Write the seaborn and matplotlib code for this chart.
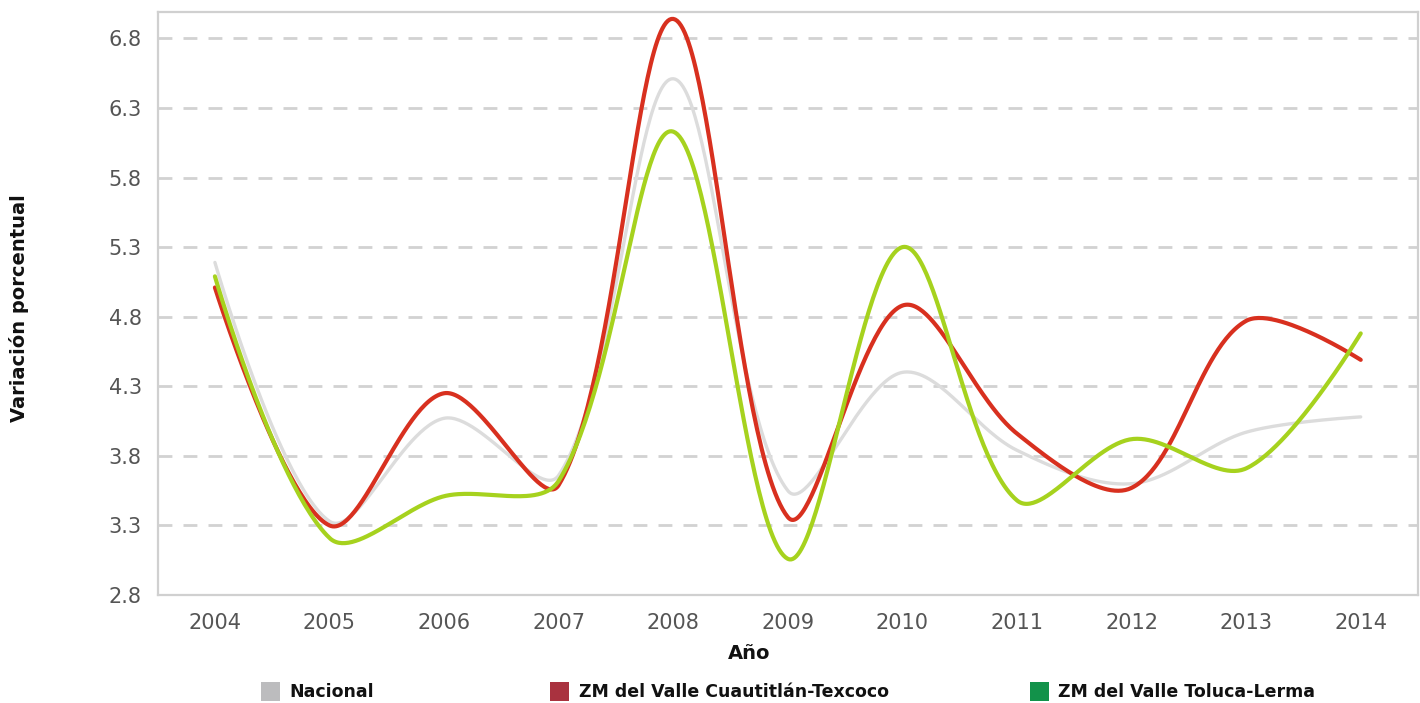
import numpy as np
import pandas as pd
import matplotlib
matplotlib.use("Agg")
import matplotlib.pyplot as plt
from matplotlib.patches import Patch
import seaborn as sns

years = [2004, 2005, 2006, 2007, 2008, 2009, 2010, 2011, 2012, 2013, 2014]
nacional = [5.19, 3.33, 4.07, 3.66, 6.51, 3.55, 4.40, 3.84, 3.60, 3.97, 4.08]
cuautitlan = [5.01, 3.30, 4.25, 3.59, 6.94, 3.36, 4.88, 3.96, 3.57, 4.77, 4.49]
toluca = [5.09, 3.21, 3.51, 3.62, 6.13, 3.06, 5.30, 3.48, 3.92, 3.71, 4.68]

series_names = ["Nacional", "ZM del Valle Cuautitlán-Texcoco", "ZM del Valle Toluca-Lerma"]
line_colors = ["#dcdcdc", "#d8301f", "#a6d21e"]
legend_colors = ["#bcbcbe", "#a9323f", "#12924a"]
y_ticks = [2.8, 3.3, 3.8, 4.3, 4.8, 5.3, 5.8, 6.3, 6.8]


def smooth_curve(ax, xs, ys, tension=1.0 / 3.0, n=60):
    """Bezier smoothing with chord-length weighted control points (display space)."""
    pts = ax.transData.transform(np.column_stack([xs, ys]).astype(float))
    m = len(pts)
    left = [pts[0].copy()]
    right = [pts[0].copy()]
    for i in range(1, m - 1):
        p0, p1, p2 = pts[i - 1], pts[i], pts[i + 1]
        d01 = np.hypot(*(p1 - p0))
        d12 = np.hypot(*(p2 - p1))
        tvec = p2 - p0
        fa = tension * d01 / (d01 + d12)
        fb = tension * d12 / (d01 + d12)
        left.append(p1 - fa * tvec)
        right.append(p1 + fb * tvec)
    left.append(pts[-1].copy())
    right.append(pts[-1].copy())
    t = np.linspace(0, 1, n)[:, None]
    out = []
    for i in range(m - 1):
        b = ((1 - t) ** 3) * pts[i] + 3 * (1 - t) ** 2 * t * right[i] \
            + 3 * (1 - t) * t ** 2 * left[i + 1] + t ** 3 * pts[i + 1]
        out.append(b if i == 0 else b[1:])
    out = np.vstack(out)
    data = ax.transData.inverted().transform(out)
    return data[:, 0], data[:, 1]


sns.set_theme(style="white")
plt.rcParams["font.family"] = ["DejaVu Sans"]

fig = plt.figure(figsize=(14.2, 7.03), dpi=100)
ax = fig.add_axes([0.111, 0.1536, 0.8876, 0.8294])
ax.set_xlim(2003.5, 2014.5)
ax.set_ylim(2.8, 6.99)

for vals, col, lw in zip([nacional, cuautitlan, toluca], line_colors, [2.4, 3.0, 3.0]):
    sx, sy = smooth_curve(ax, years, vals)
    df = pd.DataFrame({"x": sx, "y": sy})
    sns.lineplot(data=df, x="x", y="y", sort=False, estimator=None,
                 color=col, lw=lw, ax=ax, zorder=3)

ax.set_xlim(2003.5, 2014.5)
ax.set_ylim(2.8, 6.99)
ax.set_xticks(years)
ax.set_xticklabels([str(y) for y in years])
ax.set_yticks(y_ticks)
ax.set_yticklabels([f"{v:.1f}" for v in y_ticks])
ax.tick_params(axis="both", length=0, labelsize=15, labelcolor="#555555")
ax.tick_params(axis="x", pad=13)
ax.tick_params(axis="y", pad=11.5)

for v in y_ticks[1:]:
    ax.axhline(v, color="#d2d2d2", lw=2.0, ls=(0, (5, 4)), zorder=1)

for s in ax.spines.values():
    s.set_visible(True)
    s.set_color("#d0d0d0")
    s.set_linewidth(1.6)

ax.set_xlabel("")
ax.set_ylabel("")
fig.text(0.0135, 0.562, "Variación porcentual", rotation=90, ha="center", va="center",
         fontsize=14, fontweight="bold", color="#111111")
fig.text(0.5275, 0.071, "Año", ha="center", va="center",
         fontsize=14, fontweight="bold", color="#111111")

legend_x = [0.1835, 0.3875, 0.725]
for name, col, lx in zip(series_names, legend_colors, legend_x):
    leg = fig.legend(handles=[Patch(facecolor=col, edgecolor="none")], labels=[name],
                     loc="center left", bbox_to_anchor=(lx, 0.016), frameon=False,
                     handlelength=1.1, handleheight=1.3, handletextpad=0.55,
                     prop={"size": 12.5, "weight": "bold"}, borderaxespad=0, borderpad=0)
    for t in leg.get_texts():
        t.set_color("#111111")

fig.savefig("out.png", dpi=100, facecolor="white")
